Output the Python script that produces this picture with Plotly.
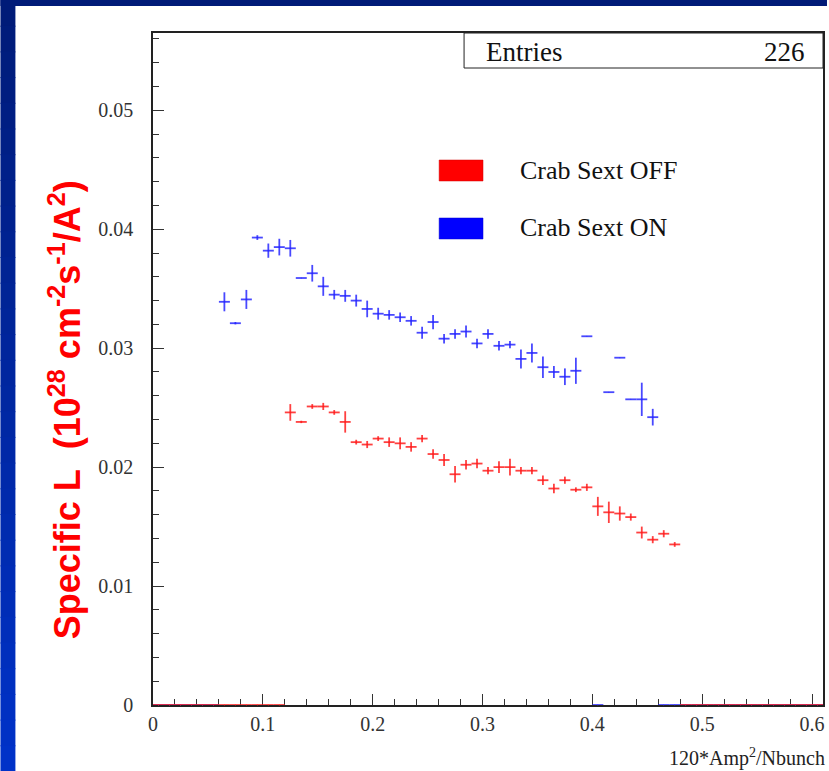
import plotly.graph_objects as go

# Histogram binning: 0.01-wide bins over [0, 0.61]
BIN_WIDTH = 0.01
N_BINS = 61

# Crab Sext ON: filled bins (bin centre, content, error)
on_x = [0.065, 0.075, 0.085, 0.095, 0.105, 0.115, 0.125, 0.135, 0.145, 0.155,
        0.165, 0.175, 0.185, 0.195, 0.205, 0.215, 0.225, 0.235, 0.245, 0.255,
        0.265, 0.275, 0.285, 0.295, 0.305, 0.315, 0.325, 0.335, 0.345, 0.355,
        0.365, 0.375, 0.385, 0.395, 0.415, 0.425, 0.435, 0.445, 0.455]
on_y = [0.0339, 0.0321, 0.0341, 0.0393, 0.0382, 0.0385, 0.0384, 0.0359, 0.0363, 0.0352,
        0.0345, 0.0344, 0.0340, 0.0333, 0.0329, 0.0328, 0.0326, 0.0323, 0.0313, 0.0322,
        0.0308, 0.0312, 0.0314, 0.0304, 0.0312, 0.0302, 0.0303, 0.0291, 0.0296, 0.0284,
        0.0280, 0.0276, 0.0281, 0.0310, 0.0263, 0.0292, 0.0257, 0.0257, 0.0242]
on_err = [0.0008, 0.0001, 0.0008, 0.0002, 0.0006, 0.0007, 0.0007, 0.0000, 0.0007, 0.0008,
          0.0004, 0.0005, 0.0005, 0.0007, 0.0005, 0.0004, 0.0004, 0.0004, 0.0005, 0.0006,
          0.0004, 0.0004, 0.0005, 0.0004, 0.0004, 0.0004, 0.0003, 0.0008, 0.0008, 0.0009,
          0.0005, 0.0007, 0.0011, 0.0000, 0.0000, 0.0000, 0.0000, 0.0014, 0.0007]

# Crab Sext OFF: filled bins
off_x = [0.125, 0.135, 0.145, 0.155, 0.165, 0.175, 0.185, 0.195, 0.205, 0.215,
         0.225, 0.235, 0.245, 0.255, 0.265, 0.275, 0.285, 0.295, 0.305, 0.315,
         0.325, 0.335, 0.345, 0.355, 0.365, 0.375, 0.385, 0.395, 0.405, 0.415,
         0.425, 0.435, 0.445, 0.455, 0.465, 0.475]
off_y = [0.0246, 0.0238, 0.0251, 0.0251, 0.0246, 0.0238, 0.0221, 0.0219, 0.0224, 0.0221,
         0.0220, 0.0217, 0.0224, 0.0211, 0.0206, 0.0194, 0.0202, 0.0203, 0.0197, 0.0200,
         0.0200, 0.0197, 0.0197, 0.0189, 0.0182, 0.0189, 0.0181, 0.0183, 0.0167, 0.0162,
         0.0161, 0.0158, 0.0145, 0.0139, 0.0144, 0.0135]
off_err = [0.0007, 0.0001, 0.0002, 0.0003, 0.0002, 0.0009, 0.0002, 0.0003, 0.0002, 0.0004,
           0.0005, 0.0004, 0.0003, 0.0004, 0.0005, 0.0007, 0.0004, 0.0004, 0.0003, 0.0005,
           0.0007, 0.0003, 0.0003, 0.0004, 0.0004, 0.0003, 0.0002, 0.0003, 0.0008, 0.0009,
           0.0006, 0.0003, 0.0005, 0.0003, 0.0003, 0.0002]

x_ticks = [0, 0.1, 0.2, 0.3, 0.4, 0.5, 0.6]
x_tick_labels = ["0", "0.1", "0.2", "0.3", "0.4", "0.5", "0.6"]
y_ticks = [0, 0.01, 0.02, 0.03, 0.04, 0.05]
y_tick_labels = ["0", "0.01", "0.02", "0.03", "0.04", "0.05"]

entries = 226

# Figure geometry (pixels) used to place paper-referenced decorations
W, H = 829, 771
L, R, T, B = 153, 4, 33, 66
PW, PH = W - L - R, H - T - B


def px_x(px):
    return (px - L) / PW


def px_y(py):
    return (H - B - py) / PH


def full_histogram(xs, ys, es):
    """Expand filled bins into the full bin list; empty bins sit at zero."""
    centres = [round((i + 0.5) * BIN_WIDTH, 3) for i in range(N_BINS)]
    lookup = {round(x, 3): (y, e) for x, y, e in zip(xs, ys, es)}
    vals = [lookup.get(c, (0.0, 0.0)) for c in centres]
    return centres, [v[0] for v in vals], [v[1] for v in vals]


RED = "rgba(255,30,30,0.85)"
BLUE = "rgba(40,40,255,0.85)"

fig = go.Figure()
for xs, ys, es, col, name in [(on_x, on_y, on_err, BLUE, "Crab Sext ON"),
                              (off_x, off_y, off_err, RED, "Crab Sext OFF")]:
    cx, cy, ce = full_histogram(xs, ys, es)
    fig.add_trace(go.Scatter(
        x=cx, y=cy, mode="markers", name=name,
        marker=dict(size=1, color=col),
        error_x=dict(type="constant", value=BIN_WIDTH / 2, color=col, thickness=1.8, width=0),
        error_y=dict(type="data", array=ce, color=col, thickness=1.8, width=0),
        cliponaxis=False, showlegend=False, hoverinfo="skip",
    ))

shapes = []
# Slide background: navy band across the top, blue gradient band down the left
shapes.append(dict(type="rect", xref="paper", yref="paper",
                   x0=px_x(0), x1=px_x(W), y0=px_y(6), y1=px_y(0),
                   fillcolor="#001b78", line=dict(width=0), layer="below"))
n_slices = 30
top_c = (0, 27, 120)
bot_c = (0, 50, 200)
for i in range(n_slices):
    f = i / (n_slices - 1)
    c = tuple(int(round(a + (b - a) * f)) for a, b in zip(top_c, bot_c))
    y0 = i * H / n_slices
    y1 = (i + 1) * H / n_slices + 1
    shapes.append(dict(type="rect", xref="paper", yref="paper",
                       x0=px_x(0), x1=px_x(15), y0=px_y(y1), y1=px_y(y0),
                       fillcolor="rgb(%d,%d,%d)" % c, line=dict(width=0), layer="below"))

# Statistics box
shapes.append(dict(type="rect", xref="paper", yref="paper",
                   x0=px_x(465), x1=1, y0=px_y(68), y1=1,
                   fillcolor="white", line=dict(color="#222", width=1)))
# Legend swatches
shapes.append(dict(type="rect", xref="paper", yref="paper",
                   x0=px_x(440), x1=px_x(484), y0=px_y(181), y1=px_y(160),
                   fillcolor="#ff0000", line=dict(color="#d00000", width=0.5)))
shapes.append(dict(type="rect", xref="paper", yref="paper",
                   x0=px_x(440), x1=px_x(484), y0=px_y(239), y1=px_y(218),
                   fillcolor="#0000ff", line=dict(color="#0000d0", width=0.5)))

serif = "Liberation Serif, Times New Roman, serif"
annotations = [
    dict(text="Entries", x=px_x(485), y=px_y(52), xref="paper", yref="paper",
         xanchor="left", yanchor="middle", showarrow=False,
         font=dict(family=serif, size=27, color="#111")),
    dict(text=str(entries), x=px_x(809), y=px_y(52), xref="paper", yref="paper",
         xanchor="right", yanchor="middle", showarrow=False,
         font=dict(family=serif, size=27, color="#111")),
    dict(text="Crab Sext OFF", x=px_x(519), y=px_y(170), xref="paper", yref="paper",
         xanchor="left", yanchor="middle", showarrow=False,
         font=dict(family=serif, size=26, color="#111")),
    dict(text="Crab Sext ON", x=px_x(519), y=px_y(228), xref="paper", yref="paper",
         xanchor="left", yanchor="middle", showarrow=False,
         font=dict(family=serif, size=26, color="#111")),
    dict(text="120*Amp<sup>2</sup>/Nbunch", x=px_x(829), y=px_y(757), xref="paper", yref="paper",
         xanchor="right", yanchor="middle", showarrow=False,
         font=dict(family=serif, size=20, color="#222")),
    dict(text="<b>Specific L&nbsp;&nbsp;(10<sup>28</sup> cm<sup>-2</sup>s<sup>-1</sup>/A<sup>2</sup>)</b>",
         x=px_x(65), y=px_y(410), xref="paper", yref="paper",
         xanchor="center", yanchor="middle", textangle=-90, showarrow=False,
         font=dict(family="Liberation Sans, Arial, sans-serif", size=36, color="#ff0000")),
]

axis_common = dict(
    showgrid=False, zeroline=False, showline=True, mirror=True,
    linecolor="#222", linewidth=1.5, ticks="inside", ticklen=11, tickwidth=1.2,
    tickcolor="#333", layer="below traces",
    tickfont=dict(family=serif, size=20, color="#333"),
)

fig.update_layout(
    width=W, height=H,
    margin=dict(l=L, r=R, t=T, b=B),
    paper_bgcolor="white", plot_bgcolor="white",
    shapes=shapes, annotations=annotations,
    xaxis=dict(range=[0, N_BINS * BIN_WIDTH], tickvals=x_ticks, ticktext=x_tick_labels,
               minor=dict(dtick=0.02, ticks="inside", ticklen=6, tickcolor="#333", tickwidth=1),
               **axis_common),
    yaxis=dict(range=[0, 0.0565], tickvals=y_ticks, ticktext=y_tick_labels,
               ticklabelstandoff=14,
               minor=dict(dtick=0.002, ticks="inside", ticklen=6, tickcolor="#333", tickwidth=1),
               **axis_common),
)

fig.write_html("out.html")
